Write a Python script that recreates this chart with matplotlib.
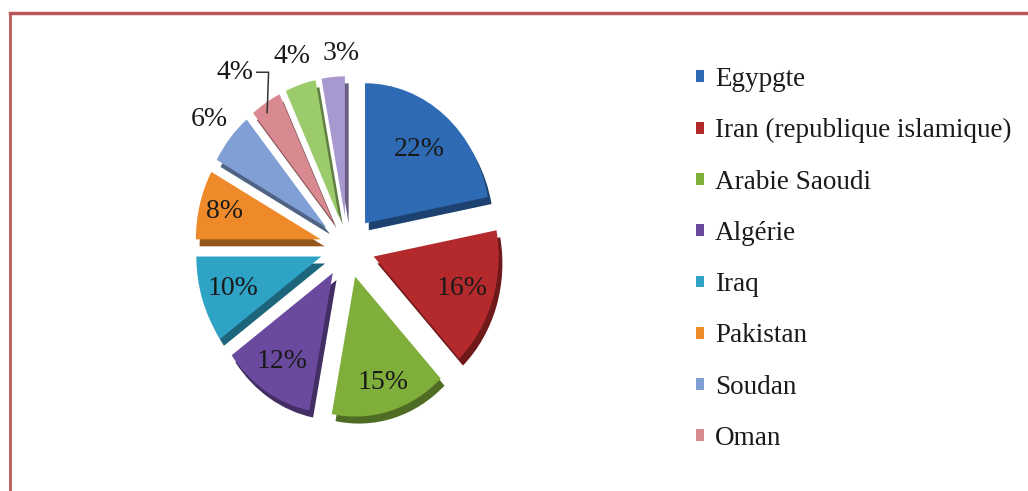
import numpy as np
import matplotlib
matplotlib.use("Agg")
import matplotlib.pyplot as plt
from matplotlib.patches import Patch
from matplotlib.lines import Line2D
from matplotlib.colors import to_rgb

# Shares of each country (percent), clockwise from 12 o'clock
shares = [22, 16, 15, 12, 10, 8, 6, 4, 4, 3]
countries = ["Egypgte", "Iran (republique islamique)", "Arabie Saoudi",
             "Algérie", "Iraq", "Pakistan", "Soudan", "Oman"]
colors = ["#2F6BB5", "#B3292C", "#7FAE3A", "#6A4A9E", "#2EA3C6",
          "#EF8A2B", "#7F9FD5", "#D98A90", "#9CCB6C", "#A898D0"]

# placement of each percentage label: distance from the slice tip and a
# small angular nudge (degrees)
label_r = [0.68, 0.74, 0.79, 0.75, 0.74, 0.80, 1.21, 1.32, 1.21, 1.16]
label_turn = [0, 0, 0, 0, 0, 0, 0, 4, 0, -4]

FONT = "Liberation Serif"
TXT = "#1a1a1a"
W, H = 1028, 491

fig = plt.figure(figsize=(W / 100, H / 100), dpi=100)
fig.patch.set_facecolor("white")

# pie axes: slightly taller than wide, as in the printed chart
cx, cy = 347.5, 244.0
rx, ry = 125.0, 140.0
lim = 1.6
ax = fig.add_axes([(cx - lim * rx) / W, (cy - lim * ry) / H,
                   2 * lim * rx / W, 2 * lim * ry / H])

explode = [0.22] * len(shares)


def darker(c, f=0.62):
    r, g, b = to_rgb(c)
    return (r * f, g * f, b * f)


# bevel / depth layer
ax.pie(shares, explode=explode, colors=[darker(c) for c in colors],
       startangle=90, counterclock=False, center=(0.03, -0.05),
       wedgeprops=dict(linewidth=0))
wedges, _ = ax.pie(shares, explode=explode, colors=colors,
                   startangle=90, counterclock=False,
                   wedgeprops=dict(linewidth=0))

for i, (w, r, t) in enumerate(zip(wedges, label_r, label_turn)):
    mid = np.deg2rad((w.theta1 + w.theta2) / 2)
    ang = mid + np.deg2rad(t)
    tipx, tipy = w.center
    lx = tipx + r * np.cos(ang)
    ly = tipy + r * np.sin(ang)
    ax.text(lx, ly, f"{shares[i]}%", ha="center", va="center",
            fontsize=20, family=FONT, color=TXT)
    if i == 7:
        # leader line from the label to the small slice
        ex = tipx + 0.93 * np.cos(mid + np.deg2rad(2))
        ey = tipy + 0.93 * np.sin(mid + np.deg2rad(2))
        ax.plot([lx + 0.17, lx + 0.27, ex], [ly, ly, ey],
                color="#333333", lw=1.1, solid_capstyle="butt")

ax.set_aspect("auto")
ax.set_xlim(-lim, lim)
ax.set_ylim(-lim, lim)
ax.axis("off")

# legend (first eight countries)
handles = [Patch(facecolor=colors[i], edgecolor="none", label=countries[i])
           for i in range(len(countries))]
fig.legend(handles=handles, loc="upper left",
           bbox_to_anchor=(696 / W, 1 - 67 / H),
           frameon=False, prop=dict(family=FONT, size=19.5),
           handlelength=0.3, handleheight=0.3, handletextpad=0.4,
           labelspacing=0.97, borderpad=0, borderaxespad=0, labelcolor=TXT)

# chart frame (top and left edges)
frame_col = "#B9585A"
fig.add_artist(Line2D([10 / W, 1.0], [1 - 13 / H, 1 - 13 / H],
                      color=frame_col, lw=2.5, transform=fig.transFigure))
fig.add_artist(Line2D([10 / W, 10 / W], [0.0, 1 - 13 / H],
                      color=frame_col, lw=2.0, transform=fig.transFigure))

fig.savefig("out.png", dpi=100, facecolor="white")
